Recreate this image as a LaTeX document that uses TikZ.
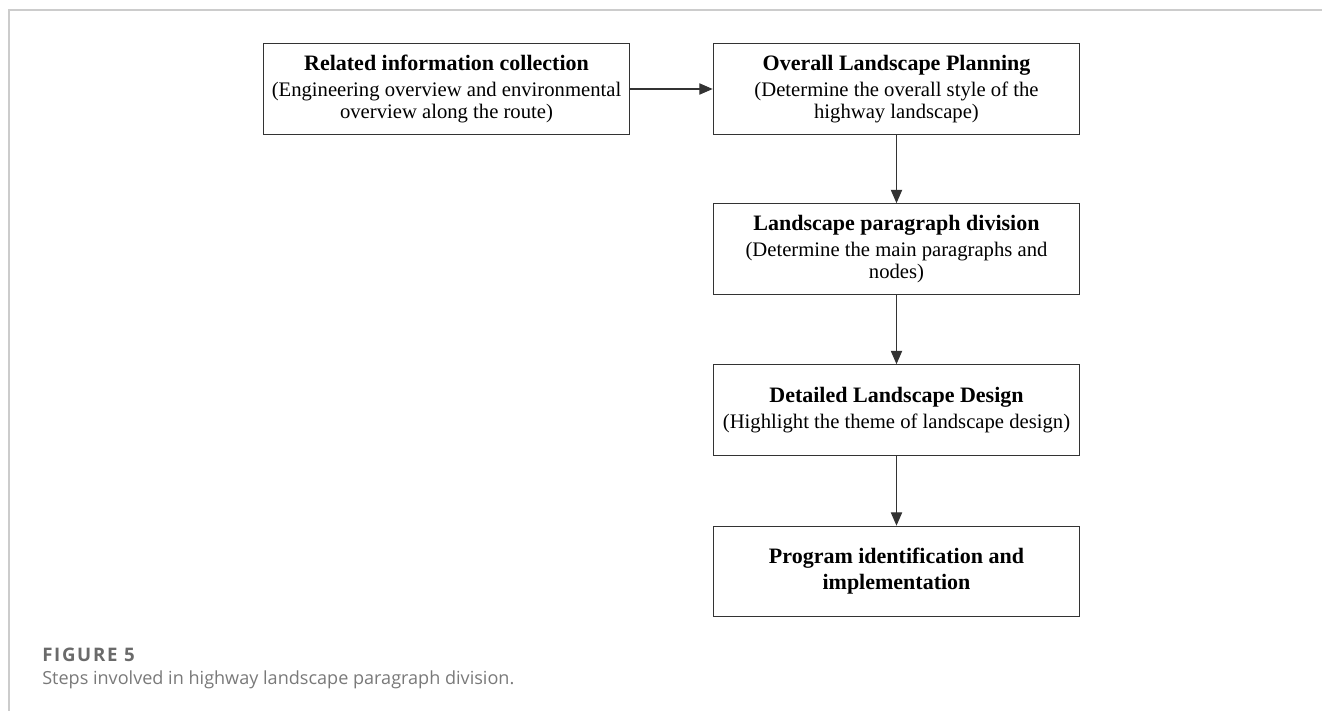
\documentclass[tikz,border=0pt]{standalone}
\usepackage{fontspec}
\setmainfont{Liberation Serif}
\newfontfamily\capfont{Open Sans}
\newfontfamily\capnumfont[LetterSpace=9]{Open Sans}
\usetikzlibrary{arrows.meta}
\definecolor{framegray}{HTML}{CCCCCC}
\definecolor{capgray}{HTML}{6A6A6A}
\definecolor{linegray}{HTML}{333333}
\newcommand\boxtitle[1]{{\fontsize{16.5}{17}\selectfont\bfseries #1}}
\begin{document}
\begin{tikzpicture}[x=0.75pt,y=-0.75pt,
    stepbox/.style={draw=linegray,line width=0.8pt,minimum width=275pt,minimum height=68pt,
      align=center,inner xsep=0pt,inner ysep=2pt,font=\fontsize{15.5}{16.8}\selectfont},
    flow/.style={draw=linegray,line width=0.8pt,-{Triangle[length=10pt,width=8.5pt]}}]
  \useasboundingbox (0,0) rectangle (1322,711);
  \draw[framegray,line width=1pt] (9,711) -- (9,10) -- (1322,10);
  \node[stepbox] (info) at (446.5,89)
    {\boxtitle{Related information collection}\\[2.4pt](Engineering overview and environmental\\overview along the route)};
  \node[stepbox] (plan) at (896.5,89)
    {\boxtitle{Overall Landscape Planning}\\[2.4pt](Determine the overall style of the\\highway landscape)};
  \node[stepbox] (divide) at (896.5,249)
    {\boxtitle{Landscape paragraph division}\\[2.4pt](Determine the main paragraphs and\\nodes)};
  \node[stepbox] (design) at (896.5,410)
    {\boxtitle{Detailed Landscape Design}\\[2.4pt](Highlight the theme of landscape design)};
  \node[stepbox] (program) at (896.5,571.5)
    {\boxtitle{Program identification and}\\[2.6pt]\boxtitle{implementation}};
  \draw[flow] (info) -- (plan);
  \draw[flow] (plan) -- (divide);
  \draw[flow] (divide) -- (design);
  \draw[flow] (design) -- (program);
  \node[anchor=base west,inner sep=0pt,text=capgray,font=\capnumfont\bfseries\fontsize{14}{16}\selectfont]
    (fignum) at (42,661) {FIGURE 5};
  \node[anchor=base west,inner sep=0pt,text=capgray!90,font=\capfont\fontsize{13.55}{16}\selectfont]
    (figcap) at (42,684) {Steps involved in highway landscape paragraph division.};
\end{tikzpicture}
\end{document}
